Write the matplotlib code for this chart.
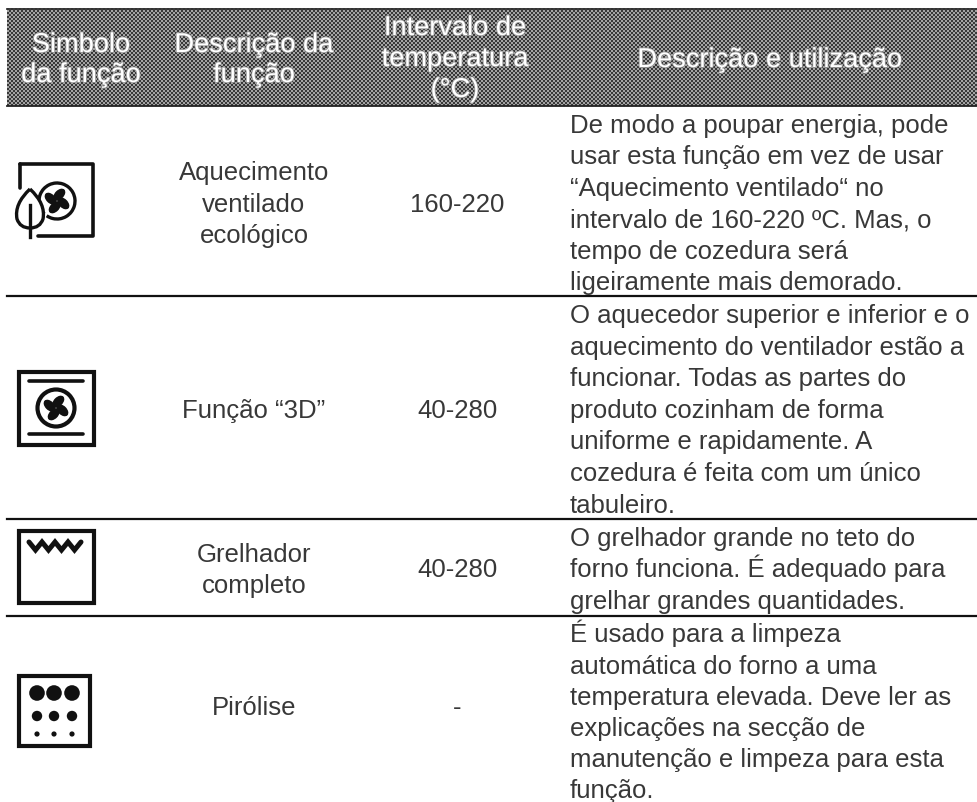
import numpy as np
import matplotlib
matplotlib.use("Agg")
import matplotlib.pyplot as plt
import matplotlib.patheffects as pe
from matplotlib.patches import Rectangle, Circle, Ellipse, Arc, PathPatch
from matplotlib.path import Path

plt.rcParams['font.family'] = ['Liberation Sans', 'DejaVu Sans']

W, H = 977, 803

# table content
headers = [["Simbolo", "da função"], ["Descrição da", "função"], ["Intervalo de", "temperatura", "(°C)"], ["Descrição e utilização"]]
functions = [["Aquecimento", "ventilado", "ecológico"], ["Função “3D”"], ["Grelhador", "completo"], ["Pirólise"]]
temps = ["160-220", "40-280", "40-280", "-"]
descriptions = [
    ["De modo a poupar energia, pode", "usar esta função em vez de usar", "“Aquecimento ventilado“ no",
     "intervalo de 160-220 ºC. Mas, o", "tempo de cozedura será", "ligeiramente mais demorado."],
    ["O aquecedor superior e inferior e o", "aquecimento do ventilador estão a", "funcionar. Todas as partes do",
     "produto cozinham de forma", "uniforme e rapidamente. A", "cozedura é feita com um único", "tabuleiro."],
    ["O grelhador grande no teto do", "forno funciona. É adequado para", "grelhar grandes quantidades."],
    ["É usado para a limpeza", "automática do forno a uma", "temperatura elevada. Deve ler as",
     "explicações na secção de", "manutenção e limpeza para esta", "função."],
]

# layout in pixels
header_centers = [81, 254, 455, 770]
header_baselines = [[53, 83], [53, 83], [36, 67, 98], [68]]
fn_center = 254
temp_center = 457
text_left = 569.5
row_lines = [297, 520, 617]
fn_first = [180, 418, 562, 715]
temp_base = [212, 418, 577, 715]
desc_first = [132.7, 323, 546, 642.5]
fn_step = 31.5
desc_step = [31.5, 31.6, 31.5, 31.1]
fs = 18.5
ink = "#383838"

fig = plt.figure(figsize=(W / 100, H / 100), dpi=100)
ax = fig.add_axes([0, 0, 1, 1])

# header band: fine checker pattern
yy, xx = np.mgrid[0:98, 0:970]
checker = ((xx // 2 + yy // 2) % 2) * 0.42 + 0.22
ax.imshow(checker, cmap="gray", vmin=0, vmax=1, extent=(7, 977, 107, 9),
          interpolation="nearest", aspect="auto", zorder=1)
ax.set_xlim(0, W)
ax.set_ylim(H, 0)
ax.axis("off")
ax.plot([7, 977], [9.5, 9.5], color="#333333", lw=1.3, zorder=2)
ax.plot([7, 977], [106.5, 106.5], color="#222222", lw=1.3, zorder=2)

for cx, label, bases in zip(header_centers, headers, header_baselines):
    for line, y in zip(label, bases):
        ax.text(cx, y, line, color="white", ha="center", va="baseline", fontsize=19.6, zorder=3,
                path_effects=[pe.withStroke(linewidth=1.2, foreground="#999999")])

# row separators
for y in row_lines:
    ax.plot([7, 977], [y, y], color="#111111", lw=1.6)

# text columns
for i in range(4):
    for j, line in enumerate(functions[i]):
        ax.text(fn_center, fn_first[i] + j * fn_step, line, ha="center", va="baseline",
                fontsize=fs, color=ink)
    ax.text(temp_center, temp_base[i], temps[i], ha="center", va="baseline", fontsize=fs, color=ink)
    for j, line in enumerate(descriptions[i]):
        ax.text(text_left, desc_first[i] + j * desc_step[i], line, ha="left", va="baseline",
                fontsize=fs, color=ink, clip_on=False)


def fan(cx, cy, r):
    for ang in (20, 110, 200, 290):
        t = np.radians(ang)
        ax.add_patch(Ellipse((cx + r * 0.52 * np.cos(t), cy + r * 0.52 * np.sin(t)),
                             r * 1.1, r * 0.7, angle=ang + 25, color="#111111", lw=0))


black = "#111111"
lw = 3.0

# eco fan icon
ax.plot([20, 20], [189, 165], color=black, lw=2.6, solid_capstyle="round")
ax.plot([20, 93, 93, 38], [165, 165, 237, 237], color=black, lw=2.6, solid_capstyle="round", solid_joinstyle="round")
leaf = Path([(30, 190), (14, 205), (17, 220), (20, 229), (30, 229), (40, 229), (43, 220), (46, 205), (30, 190)],
            [Path.MOVETO, Path.CURVE3, Path.CURVE3, Path.CURVE3, Path.CURVE3, Path.CURVE3, Path.CURVE3, Path.CURVE3, Path.CURVE3])
ax.add_patch(PathPatch(leaf, facecolor="white", edgecolor=black, lw=2.4, zorder=3))
ax.plot([30, 30], [206, 238], color=black, lw=2.4, zorder=4)
ax.add_patch(Arc((57, 202), 36, 36, theta1=-225, theta2=125, color=black, lw=2.4))
fan(57, 202, 13)

# 3D fan icon
ax.add_patch(Rectangle((18.5, 372.5), 75, 73, fill=False, edgecolor=black, lw=lw))
ax.plot([29, 83], [382, 382], color=black, lw=2.6, solid_capstyle="round")
ax.plot([29, 83], [435, 435], color=black, lw=2.6, solid_capstyle="round")
ax.add_patch(Circle((56, 409), 18.5, fill=False, edgecolor=black, lw=lw))
fan(56, 409, 13)

# grill icon
ax.add_patch(Rectangle((18.5, 531.5), 75, 72.5, fill=False, edgecolor=black, lw=lw))
ax.plot([29, 35.5, 42, 48.5, 55, 61.5, 68, 74.5, 81], [543, 551, 543, 551, 543, 551, 543, 551, 543],
        color=black, lw=3.6, solid_joinstyle="miter", solid_capstyle="round")

# pyrolysis icon
ax.add_patch(Rectangle((18.5, 676.5), 71, 70.5, fill=False, edgecolor=black, lw=lw))
for cy, r in ((694, 7.8), (717, 5.2), (735, 2.6)):
    for cx in (37, 54, 72):
        ax.add_patch(Circle((cx, cy), r, color=black, lw=0))

fig.savefig("out.png", dpi=100)
